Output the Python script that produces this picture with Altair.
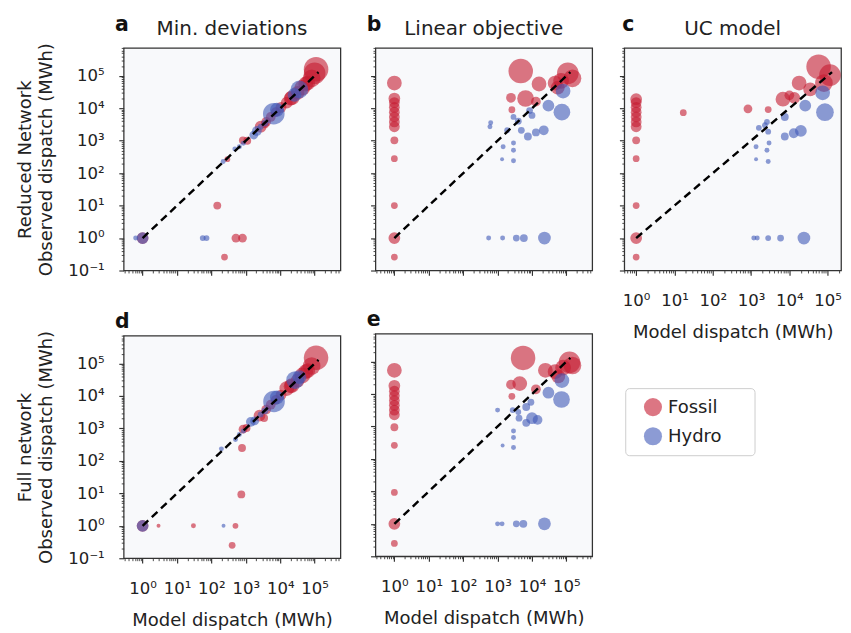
import altair as alt
import pandas as pd

FONT = "DejaVu Sans"
FOSSIL_COLOR = "#c41a30"
HYDRO_COLOR = "#3f58b8"
TYPES = ["Fossil", "Hydro"]

# ---------------- data (model dispatch, observed dispatch, capacity) ----------------
# a  Min. deviations (reduced network)
A_FOSSIL_MODEL = [1, 148, 240, 515, 800, 290, 820, 1100, 2700, 3600, 3900, 5300, 7400, 10500, 15500, 20000, 22000, 32000, 44000, 55000, 63000, 82000, 100000, 110000]
A_FOSSIL_OBS = [1, 10, 0.26, 1, 1, 270, 1030, 1000, 2700, 3200, 3800, 5400, 7600, 10700, 15000, 20000, 21000, 30000, 43000, 56000, 60000, 84000, 120000, 160000]
A_FOSSIL_CAP = [450, 200, 150, 250, 250, 110, 200, 200, 450, 200, 310, 310, 310, 380, 450, 620, 710, 620, 800, 710, 710, 1020, 1520, 1960]
A_HYDRO_MODEL = [0.63, 1, 56, 72, 220, 480, 650, 850, 1700, 2100, 2700, 3600, 6500, 8000, 26000, 36000]
A_HYDRO_OBS = [1, 1, 1, 1, 230, 560, 650, 830, 1500, 2000, 2700, 3500, 6800, 9000, 26000, 38000]
A_HYDRO_CAP = [80, 450, 110, 110, 80, 80, 80, 80, 250, 310, 110, 150, 1520, 620, 620, 1020]

# b  Linear objective (reduced network)
B_FOSSIL_MODEL = [1, 1, 1, 1, 1, 1, 1, 1, 1, 1, 1, 1, 1, 4700, 16000, 110000, 150000, 47000, 56000, 70000, 2450, 6500, 13000, 2600]
B_FOSSIL_OBS = [60000, 20000, 15000, 10700, 7600, 5400, 3800, 2700, 1030, 280, 10, 1, 0.26, 140000, 56000, 120000, 84000, 60000, 43000, 70000, 21000, 20000, 16000, 9000]
B_FOSSIL_CAP = [710, 450, 380, 380, 380, 380, 380, 380, 200, 150, 150, 450, 150, 1960, 710, 1520, 1020, 710, 620, 800, 310, 910, 310, 150]
B_HYDRO_MODEL = [80000, 74000, 30000, 630, 600, 2900, 4000, 4900, 7600, 10000, 13000, 22000, 8500, 1900, 1450, 2900, 2900, 1350, 2900, 550, 1400, 3500, 5800, 23000]
B_HYDRO_OBS = [34000, 7600, 12000, 3600, 2700, 5400, 4000, 2100, 1350, 6000, 1800, 2100, 8500, 2100, 650, 850, 510, 270, 240, 1, 1, 1, 1, 1]
B_HYDRO_CAP = [710, 910, 450, 80, 80, 110, 150, 150, 200, 150, 200, 310, 150, 110, 80, 80, 80, 50, 80, 80, 80, 150, 200, 530]

# c  UC model (reduced network)
C_FOSSIL_MODEL = [1, 1, 1, 1, 1, 1, 1, 1, 1, 1, 1, 1, 17, 830, 2800, 58000, 115000, 18000, 6800, 13500, 35000, 80000, 10000]
C_FOSSIL_OBS = [19000, 15000, 10700, 7600, 5400, 3800, 2700, 1030, 280, 10, 1, 0.26, 7300, 9600, 9100, 190000, 105000, 60000, 19000, 21000, 38000, 60000, 25000]
C_FOSSIL_CAP = [450, 380, 380, 380, 380, 380, 380, 200, 150, 150, 450, 150, 150, 250, 150, 1960, 1520, 710, 710, 450, 620, 1020, 310]
C_HYDRO_MODEL = [74000, 85000, 26000, 7600, 2600, 1600, 2300, 2800, 7600, 13000, 20000, 1350, 2600, 2950, 1350, 2800, 1180, 1450, 2800, 5900, 24000]
C_HYDRO_OBS = [30000, 7600, 12000, 5400, 3800, 2500, 3000, 1900, 1350, 1700, 2000, 650, 510, 850, 270, 230, 1, 1, 1, 1, 1]
C_HYDRO_CAP = [710, 1020, 450, 200, 110, 110, 110, 110, 200, 310, 450, 80, 80, 80, 50, 80, 80, 80, 110, 150, 530]

# d  Min. deviations (full network)
D_FOSSIL_MODEL = [1, 2.9, 30, 500, 400, 740, 775, 830, 1050, 2500, 3400, 3900, 5300, 7400, 10500, 15500, 20000, 22000, 32000, 44000, 55000, 63000, 82000, 110000]
D_FOSSIL_OBS = [1, 1, 1, 1, 0.25, 9.3, 250, 950, 1030, 2500, 2100, 3800, 5400, 7600, 10700, 17000, 20000, 21000, 30000, 43000, 56000, 60000, 84000, 150000]
D_FOSSIL_CAP = [450, 50, 80, 110, 150, 200, 200, 250, 200, 450, 200, 310, 310, 310, 380, 710, 620, 710, 620, 800, 710, 710, 1020, 1960]
D_HYDRO_MODEL = [1, 225, 195, 500, 650, 850, 1400, 1800, 2700, 3600, 6600, 8000, 27000, 36000]
D_HYDRO_OBS = [1, 1, 235, 460, 650, 830, 1600, 1700, 2700, 3500, 6800, 9000, 31000, 38000]
D_HYDRO_CAP = [450, 50, 80, 80, 80, 80, 310, 250, 110, 150, 1520, 620, 1020, 620]

# e  Linear objective (full network)
E_FOSSIL_MODEL = [1, 1, 1, 1, 1, 1, 1, 1, 1, 1, 1, 1, 1, 5500, 24500, 123000, 150000, 47000, 58000, 80000, 2450, 4400, 13000, 2600]
E_FOSSIL_OBS = [54000, 18000, 12300, 8900, 6300, 4500, 3200, 2300, 950, 263, 9.3, 1, 0.25, 130000, 54000, 95000, 76000, 49000, 35000, 65000, 19500, 21000, 14000, 8500]
E_FOSSIL_CAP = [710, 450, 380, 380, 380, 380, 380, 380, 200, 150, 150, 450, 150, 1960, 710, 1520, 1020, 710, 620, 800, 310, 710, 310, 150]
E_HYDRO_MODEL = [74000, 72000, 30000, 1000, 2750, 4000, 4200, 6800, 9300, 10000, 14500, 6800, 2900, 2900, 1400, 2900, 1000, 1350, 3500, 5600, 23000]
E_HYDRO_OBS = [26000, 6800, 11000, 3200, 3200, 2800, 1800, 1300, 5600, 1800, 1600, 4000, 730, 460, 260, 225, 1, 1, 1, 1, 1]
E_HYDRO_CAP = [710, 910, 450, 80, 110, 110, 150, 200, 150, 450, 310, 200, 80, 80, 50, 80, 80, 80, 150, 200, 530]

# 1:1 reference line
DIAG = [1, 130000]

# ---------------- axis helpers ----------------
MAJOR = [0.1, 1.0, 10.0, 100.0, 1000.0, 10000.0, 100000.0, 1000000.0]
SUP = {0.1: "10⁻¹", 1.0: "10⁰", 10.0: "10¹", 100.0: "10²", 1000.0: "10³", 10000.0: "10⁴", 100000.0: "10⁵"}
LABEL_EXPR = " : ".join(f"datum.value == {k} ? '{v}'" for k, v in SUP.items()) + " : ''"
MAJOR_TEST = "indexof([" + ",".join(str(m) for m in MAJOR) + "], datum.value) >= 0"


def log_ticks(lo, hi):
    vals = []
    for e in range(-2, 7):
        for k in range(1, 10):
            v = round(k * 10.0 ** e, 6)
            if lo <= v <= hi:
                vals.append(v)
    return vals


XDOM_WIDE = [10 ** -0.55, 10 ** 5.75]
XDOM_C = [10 ** -0.31, 10 ** 5.35]
YDOM = [10 ** -1.0, 10 ** 5.86]
W, H = 223, 229


def make_axis(dom, labels, title, orient):
    kw = dict(
        values=log_ticks(*dom),
        labels=labels,
        tickSize={"condition": {"test": MAJOR_TEST, "value": 5}, "value": 2.5},
        tickWidth={"condition": {"test": MAJOR_TEST, "value": 1.2}, "value": 0.9},
        tickColor="#333",
        domain=False,
        grid=False,
        labelOverlap=False,
        labelBound=False,
        labelFlush=False,
        labelFont=FONT,
        labelFontSize=17,
        labelColor="#222",
        labelExpr=LABEL_EXPR,
        titleFont=FONT,
        titleFontSize=18.5,
        titleFontWeight="normal",
        titleColor="#222",
        title=title,
    )
    if orient == "x":
        kw.update(labelPadding=18, titlePadding=15)
    else:
        kw.update(labelPadding=15, titlePadding=13, titleLineHeight=21)
    return alt.Axis(**kw)


# trailing no-break spaces (kept by a zero-width space) widen the legend box
LEGEND = alt.Legend(
    orient="none", legendX=516, legendY=350, title=None,
    symbolType="circle", symbolSize=346, symbolOpacity=0.6, symbolStrokeWidth=0,
    labelFont=FONT, labelFontSize=18.5, labelColor="#222", labelOffset=6,
    labelExpr="datum.label + '\u00a0\u00a0\u00a0\u00a0\u200b'",
    strokeColor="#cccccc", fillColor="white", cornerRadius=4,
    padding=10, symbolOffset=9, rowPadding=11,
)


def panel_df(fm, fo, fc, hm, ho, hc):
    return pd.DataFrame({
        "model": list(fm) + list(hm),
        "obs": list(fo) + list(ho),
        "cap": list(fc) + list(hc),
        "type": ["Fossil"] * len(fm) + ["Hydro"] * len(hm),
    })


def panel(df, xdom, letter, letter_dx, letter_dy, title=None, ytitle=None, xlabels=False):
    xaxis = make_axis(xdom, xlabels, "Model dispatch (MWh)" if xlabels else None, "x")
    yaxis = make_axis(YDOM, ytitle is not None, ytitle, "y")
    xs = alt.Scale(type="log", domain=xdom, nice=False)
    ys = alt.Scale(type="log", domain=YDOM, nice=False)
    pts = alt.Chart(df).mark_circle(opacity=0.6, strokeWidth=0).encode(
        x=alt.X("model:Q", scale=xs, axis=xaxis),
        y=alt.Y("obs:Q", scale=ys, axis=yaxis),
        color=alt.Color("type:N", scale=alt.Scale(domain=TYPES, range=[FOSSIL_COLOR, HYDRO_COLOR]), legend=LEGEND),
        size=alt.Size("cap:Q", scale=alt.Scale(domain=[0, 2000], range=[0, 650]), legend=None),
    )
    diag = alt.Chart(pd.DataFrame({"model": DIAG, "obs": DIAG})).mark_line(
        color="black", strokeDash=[8, 5], strokeWidth=2.5
    ).encode(x=alt.X("model:Q", scale=xs), y=alt.Y("obs:Q", scale=ys))
    lt = alt.Chart(pd.DataFrame({"t": [letter]})).mark_text(
        font=FONT, fontSize=21, fontWeight="bold", align="left", baseline="alphabetic", color="#111"
    ).encode(text="t:N", x=alt.value(letter_dx), y=alt.value(letter_dy))
    layers = [pts, diag, lt]
    if title:
        tt = alt.Chart(pd.DataFrame({"t": [title]})).mark_text(
            font=FONT, fontSize=20.5, align="center", baseline="alphabetic", color="#222"
        ).encode(text="t:N", x=alt.value(W / 2), y=alt.value(-13))
        layers.append(tt)
    return alt.layer(*layers).properties(width=W, height=H)


pa = panel(panel_df(A_FOSSIL_MODEL, A_FOSSIL_OBS, A_FOSSIL_CAP, A_HYDRO_MODEL, A_HYDRO_OBS, A_HYDRO_CAP),
           XDOM_WIDE, "a", -9, -17, title="Min. deviations",
           ytitle=["Reduced Network", "Observed dispatch (MWh)"])
pb = panel(panel_df(B_FOSSIL_MODEL, B_FOSSIL_OBS, B_FOSSIL_CAP, B_HYDRO_MODEL, B_HYDRO_OBS, B_HYDRO_CAP),
           XDOM_WIDE, "b", -9, -17, title="Linear objective")
pc = panel(panel_df(C_FOSSIL_MODEL, C_FOSSIL_OBS, C_FOSSIL_CAP, C_HYDRO_MODEL, C_HYDRO_OBS, C_HYDRO_CAP),
           XDOM_C, "c", -2, -17, title="UC model", xlabels=True)
pd_ = panel(panel_df(D_FOSSIL_MODEL, D_FOSSIL_OBS, D_FOSSIL_CAP, D_HYDRO_MODEL, D_HYDRO_OBS, D_HYDRO_CAP),
            XDOM_WIDE, "d", -9, -8, ytitle=["Full network", "Observed dispatch (MWh)"], xlabels=True)
pe = panel(panel_df(E_FOSSIL_MODEL, E_FOSSIL_OBS, E_FOSSIL_CAP, E_HYDRO_MODEL, E_HYDRO_OBS, E_HYDRO_CAP),
           XDOM_WIDE, "e", -9, -8, xlabels=True)

col1 = alt.vconcat(pa, pd_, spacing=32)
col2 = alt.vconcat(pb, pe, spacing=32)
chart = alt.hconcat(col1, col2, pc, spacing=25).properties(
    padding={"left": 7, "top": -3, "right": 0, "bottom": 0},
    background="white",
).configure_view(
    stroke="#333", strokeWidth=1.3, fill="#f8f9fb"
)

chart.save("out.html", embed_options={"renderer": "svg", "actions": False})
